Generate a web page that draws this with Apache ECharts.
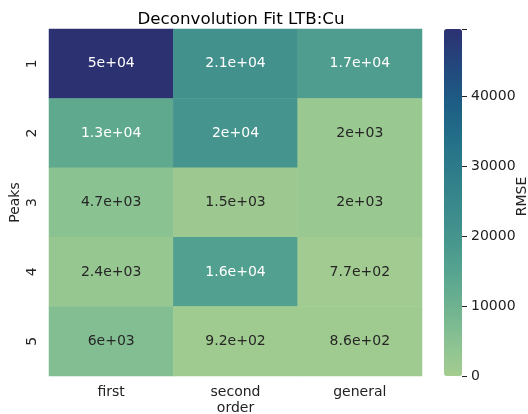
<!DOCTYPE html>
<html>
<head>
<meta charset="utf-8">
<script src="https://cdn.jsdelivr.net/npm/echarts@6/dist/echarts.min.js"></script>
<style>html,body{margin:0;padding:0;background:#fff}#c{width:528px;height:414px}</style>
</head>
<body>
<div id="c"></div>
<script>
const orders = ['first', 'second', 'general'];
const peaks = ['1', '2', '3', '4', '5'];
// rows = peaks 1..5, columns = first, second, general
const rmseFirst = [49600, 13000, 4700, 2400, 6000];
const rmseSecond = [21000, 20000, 1500, 16000, 920];
const rmseGeneral = [17000, 2000, 2000, 770, 860];
const cbarTicks = [0, 10000, 20000, 30000, 40000];
const vMin = 0, vMax = 49600;

const crest = ['#a5cd90', '#89c192', '#6eb290', '#56a48f', '#45948d', '#39888c',
               '#2d7b8a', '#226c88', '#1d5b84', '#23467c', '#2c3172'];
const FONT = 'DejaVu Sans';
const FS = 14;

function fmt2g(v) {
  const s = v.toExponential(1);
  let [m, e] = s.split('e');
  if (m.indexOf('.') >= 0) m = m.replace(/0+$/, '').replace(/\.$/, '');
  const sign = e[0] === '-' ? '-' : '+';
  let d = e.replace(/[+-]/, '');
  if (d.length < 2) d = '0' + d;
  return m + 'e' + sign + d;
}

const cols = [rmseFirst, rmseSecond, rmseGeneral];
const data = [];
cols.forEach((arr, ci) => {
  arr.forEach((v, ri) => {
    data.push({
      value: [ci, ri, v],
      label: { color: v > 10000 ? '#ffffff' : '#262626' }
    });
  });
});

const chart = echarts.init(document.getElementById('c'), null, { renderer: 'canvas' });
chart.setOption({
  animation: false,
  backgroundColor: '#ffffff',
  textStyle: { fontFamily: FONT },
  title: {
    text: 'Deconvolution Fit LTB:Cu',
    left: 236, top: 6, textAlign: 'center',
    textStyle: { fontFamily: FONT, fontSize: 16.7, fontWeight: 'normal', color: '#000' }
  },
  grid: [
    { left: 49, top: 29, width: 373, height: 347, containLabel: false, outerBoundsMode: 'none' },
    { left: 444, top: 29, width: 18, height: 347, containLabel: false, outerBoundsMode: 'none' }
  ],
  xAxis: [
    {
      type: 'category', data: orders, gridIndex: 0,
      axisLine: { show: false },
      axisTick: { alignWithLabel: true, length: 5, lineStyle: { color: '#222' } },
      axisLabel: { color: '#222', fontSize: FS, fontFamily: FONT, margin: 9 },
      splitArea: { show: false }, splitLine: { show: false },
      name: 'order', nameLocation: 'middle', nameGap: 25, nameMoveOverlap: false,
      nameTextStyle: { color: '#222', fontSize: FS, fontFamily: FONT }
    },
    {
      type: 'value', gridIndex: 1, show: false, min: 0, max: 1,
      axisLine: { show: false, onZero: false }, axisTick: { show: false }, axisLabel: { show: false },
      splitLine: { show: false }
    }
  ],
  yAxis: [
    {
      type: 'category', data: peaks, gridIndex: 0, inverse: true,
      axisLine: { show: false },
      axisTick: { alignWithLabel: true, length: 5, lineStyle: { color: '#222' } },
      axisLabel: { color: '#222', fontSize: FS, fontFamily: FONT, rotate: 90, margin: 10 },
      splitArea: { show: false }, splitLine: { show: false },
      name: 'Peaks', nameLocation: 'middle', nameGap: 27, nameMoveOverlap: false,
      nameTextStyle: { color: '#222', fontSize: FS, fontFamily: FONT }
    },
    {
      type: 'value', gridIndex: 1, position: 'right', min: vMin, max: vMax, interval: 10000,
      axisLine: { show: false, onZero: false },
      axisTick: { show: true, length: 5, lineStyle: { color: '#222' } },
      axisLabel: {
        color: '#222', fontSize: FS, fontFamily: FONT, margin: 9,
        formatter: v => (cbarTicks.indexOf(v) >= 0 ? String(v) : '')
      },
      splitLine: { show: false },
      name: 'RMSE', nameLocation: 'middle', nameGap: 53, nameRotate: 90, nameMoveOverlap: false,
      nameTextStyle: { color: '#222', fontSize: FS, fontFamily: FONT, padding: [0, 0, 0, 12] }
    }
  ],
  visualMap: {
    type: 'continuous', min: vMin, max: vMax, seriesIndex: 0,
    calculable: false, show: true, orient: 'vertical',
    left: 444, top: 29, itemWidth: 18, itemHeight: 347, padding: 0,
    text: null, hoverLink: false, indicatorSize: 0,
    inRange: { color: crest }
  },
  series: [{
    type: 'heatmap', xAxisIndex: 0, yAxisIndex: 0, data: data,
    itemStyle: { borderWidth: 0 },
    label: {
      show: true, fontSize: FS, fontFamily: FONT,
      formatter: p => fmt2g(p.value[2])
    },
    emphasis: { disabled: true }
  }]
});
</script>
</body>
</html>
